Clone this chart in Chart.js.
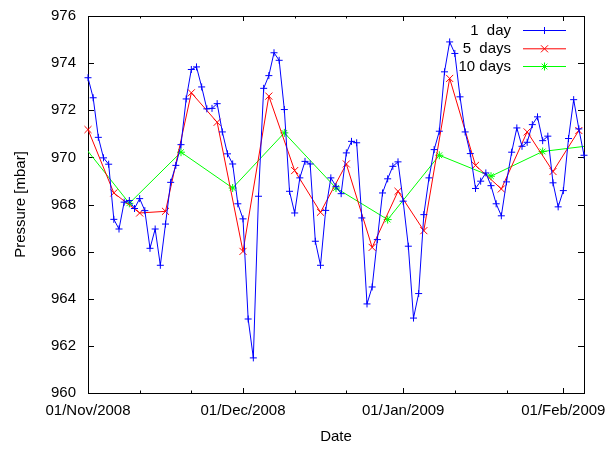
<!DOCTYPE html>
<html>
<head>
<meta charset="utf-8">
<script src="https://cdn.jsdelivr.net/npm/chart.js@4.4.1/dist/chart.umd.min.js"></script>
<style>
html, body { margin: 0; padding: 0; background: #ffffff; }
#wrap { width: 611px; height: 451px; }
</style>
</head>
<body>
<div id="wrap"><canvas id="c" width="611" height="451"></canvas></div>
<script>
// ---- data (x = days since 01/Nov/2008) ----
const oneDayPressure = [
  973.38, 972.53, 970.85, 969.98, 969.71, 967.37, 966.96, 968.10, 968.17, 967.83,
  968.25, 967.74, 966.14, 966.96, 965.42, 967.17, 968.94, 969.66, 970.54, 972.48,
  973.73, 973.84, 972.99, 972.06, 972.08, 972.28, 971.08, 970.15, 969.72, 968.03,
  967.39, 963.14, 961.49, 968.35, 972.93, 973.47, 974.44, 974.12, 972.03, 968.56,
  967.64, 969.13, 969.83, 969.72, 966.44, 965.42, 967.75, 969.13, 968.77, 968.46,
  970.19, 970.68, 970.62, 967.43, 963.78, 964.50, 966.51, 968.49, 969.09, 969.62,
  969.81, 968.14, 966.23, 963.18, 964.22, 967.57, 969.13, 970.33, 971.11, 973.63,
  974.90, 974.41, 972.57, 971.08, 970.16, 968.68, 968.99, 969.34, 968.80, 968.03,
  967.52, 968.96, 970.22, 971.25, 970.47, 970.64, 971.39, 971.72, 970.71, 970.90,
  968.92, 967.90, 968.59, 970.80, 972.45, 971.21, 970.09
];
const fiveDayOffsets = [0, 5, 10, 15, 20, 25, 30, 35, 40, 45, 50, 55, 60, 65, 70, 75, 80, 85, 90, 95];
const fiveDayPressure = [
  971.18, 968.49, 967.64, 967.71, 972.74, 971.49, 966.01, 972.60, 969.44, 967.67,
  969.72, 966.18, 968.56, 966.89, 973.35, 969.66, 968.66, 971.08, 969.40, 971.14
];
const tenDayOffsets = [-2, 8, 18, 28, 38, 48, 58, 68, 78, 88, 98];
const tenDayPressure = [970.81, 968.05, 970.22, 968.70, 971.04, 968.70, 967.36, 970.09, 969.20, 970.25, 970.52];

const seriesLabels = ['1  day', '5  days', '10 days'];
const seriesColors = ['#0000ff', '#ff0000', '#00ff00'];
const seriesMarkers = ['cross', 'crossRot', 'star'];

const majorTickDays = [0, 30, 61, 92];
const majorTickLabels = ['01/Nov/2008', '01/Dec/2008', '01/Jan/2009', '01/Feb/2009'];
const minorTickDays = [10, 20, 40, 50, 71, 81];
const xRange = [0, 96];
const yRange = [960, 976];
const yStep = 2;

const FONT = "'Liberation Sans', Arial, sans-serif";

const oneDayPoints = oneDayPressure.map((v, i) => ({ x: i, y: v }));
const fiveDayPoints = fiveDayPressure.map((v, i) => ({ x: fiveDayOffsets[i], y: v }));
const tenDayPoints = tenDayPressure.map((v, i) => ({ x: tenDayOffsets[i], y: v }));

const markerRadius = [3.5, 5, 4];

const framePlugin = {
  id: 'frame',
  beforeDatasetsDraw(chart) {
    const { ctx, chartArea: a, scales } = chart;
    const x = scales.x, y = scales.y;
    ctx.save();
    ctx.strokeStyle = '#000';
    ctx.lineWidth = 1;
    ctx.beginPath();
    y.ticks.forEach(t => {
      const py = Math.round(y.getPixelForValue(t.value)) + 0.5;
      ctx.moveTo(a.left, py); ctx.lineTo(a.left + 6, py);
      ctx.moveTo(a.right, py); ctx.lineTo(a.right - 6, py);
    });
    majorTickDays.forEach(d => {
      const px = Math.round(x.getPixelForValue(d)) + 0.5;
      ctx.moveTo(px, a.bottom); ctx.lineTo(px, a.bottom - 5);
      ctx.moveTo(px, a.top); ctx.lineTo(px, a.top + 5);
    });
    minorTickDays.forEach(d => {
      const px = Math.round(x.getPixelForValue(d)) + 0.5;
      ctx.moveTo(px, a.bottom); ctx.lineTo(px, a.bottom - 2.5);
      ctx.moveTo(px, a.top); ctx.lineTo(px, a.top + 2.5);
    });
    ctx.stroke();
    ctx.strokeRect(Math.round(a.left) + 0.5, Math.round(a.top) + 0.5,
                   Math.round(a.right - a.left), Math.round(a.bottom - a.top));
    ctx.restore();
  },
  afterDatasetsDraw(chart) {
    const { ctx, chartArea: a } = chart;
    ctx.save();
    ctx.font = '15px ' + FONT;
    ctx.textAlign = 'right';
    ctx.textBaseline = 'middle';
    const rows = [14, 32.3, 50];
    chart.data.datasets.forEach((ds, i) => {
      const ry = a.top + rows[i];
      ctx.fillStyle = '#000';
      ctx.fillText(ds.label, a.right - 73, ry + 1);
      ctx.strokeStyle = ds.borderColor;
      ctx.lineWidth = 1;
      ctx.beginPath();
      ctx.moveTo(a.right - 61, ry + 0.5);
      ctx.lineTo(a.right - 18, ry + 0.5);
      ctx.stroke();
      ctx.fillStyle = ds.borderColor;
      Chart.helpers.drawPoint(ctx, {
        pointStyle: ds.pointStyle, radius: ds.pointRadius, borderWidth: 1, rotation: 0
      }, a.right - 39.5, ry + 0.5);
    });
    ctx.restore();
  }
};

function makeSet(i, pts, clip) {
  return {
    label: seriesLabels[i],
    data: pts,
    borderColor: seriesColors[i],
    backgroundColor: seriesColors[i],
    borderWidth: 1,
    pointStyle: seriesMarkers[i],
    pointRadius: markerRadius[i],
    pointBorderWidth: 1,
    pointHoverRadius: markerRadius[i],
    tension: 0,
    clip: clip
  };
}

new Chart(document.getElementById('c'), {
  type: 'line',
  data: {
    datasets: [
      makeSet(0, oneDayPoints, 8),
      makeSet(1, fiveDayPoints, 8),
      makeSet(2, tenDayPoints, 0)
    ]
  },
  plugins: [framePlugin],
  options: {
    responsive: false,
    animation: false,
    events: [],
    layout: { padding: { left: 0, top: 16, right: 27, bottom: 0 } },
    plugins: { legend: { display: false }, tooltip: { enabled: false } },
    scales: {
      x: {
        type: 'linear',
        min: xRange[0],
        max: xRange[1],
        afterBuildTicks: s => { s.ticks = majorTickDays.map(v => ({ value: v })); },
        afterFit: s => { s.height = 58; s.paddingLeft = 0; s.paddingRight = 0; },
        grid: { display: false, drawTicks: false },
        border: { display: false },
        ticks: {
          autoSkip: false, maxRotation: 0, minRotation: 0, padding: 9,
          color: '#000', font: { family: FONT, size: 15 },
          callback: v => majorTickLabels[majorTickDays.indexOf(v)]
        },
        title: {
          display: true, text: 'Date', color: '#000',
          font: { family: FONT, size: 15 }, padding: { top: 0, bottom: 5 }
        }
      },
      y: {
        type: 'linear',
        min: yRange[0],
        max: yRange[1],
        afterFit: s => { s.width = 88; s.paddingTop = 0; s.paddingBottom = 0; },
        grid: { display: false, drawTicks: false },
        border: { display: false },
        ticks: {
          stepSize: yStep, padding: 12, color: '#000',
          font: { family: FONT, size: 15 }
        },
        title: {
          display: true, text: 'Pressure [mbar]', color: '#000',
          font: { family: FONT, size: 15 }, padding: { top: 12, bottom: 0 }
        }
      }
    }
  }
});
</script>
</body>
</html>
